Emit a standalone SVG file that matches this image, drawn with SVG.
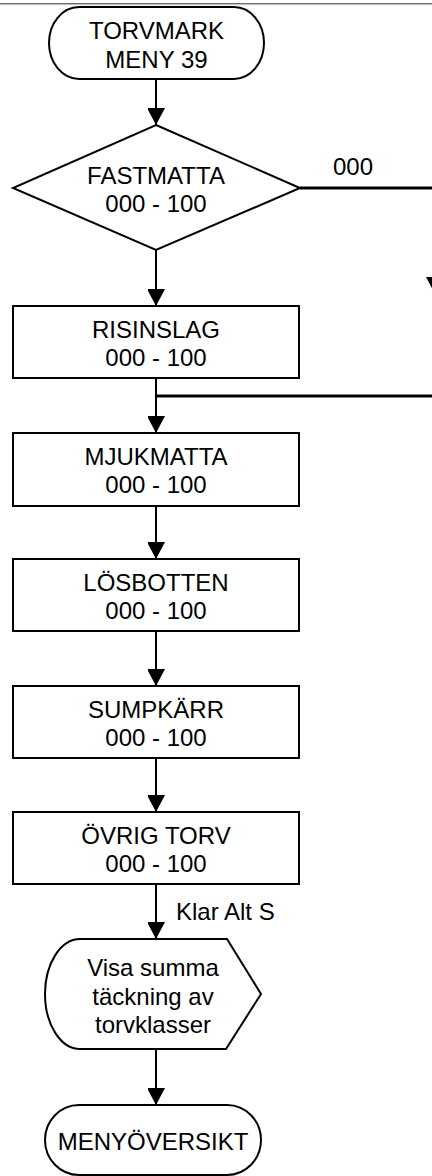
<svg xmlns="http://www.w3.org/2000/svg" width="432" height="1176" viewBox="0 0 432 1176">
  <defs>
    <style>
      .shape { fill: #ffffff; stroke: #000000; stroke-width: 2; }
      .conn { fill: none; stroke: #000000; stroke-width: 2; }
      .thick { fill: none; stroke: #000000; stroke-width: 3; }
      .lbl { font-family: "Liberation Sans", Arial, sans-serif; font-size: 24px; fill: #000000; }
      .c { text-anchor: middle; }
    </style>
    <marker id="arrow" markerUnits="userSpaceOnUse" markerWidth="18" markerHeight="17" refX="17" refY="9" orient="auto">
      <path d="M0,0 L17,9 L0,18 Z" fill="#000000"/>
    </marker>
  </defs>
  <rect x="0" y="0" width="432" height="1176" fill="#ffffff"/>
  <line x1="0" y1="3.5" x2="432" y2="3.5" stroke="#6e6e6e" stroke-width="1.2"/>
  <line x1="0" y1="4.6" x2="432" y2="4.6" stroke="#b8b8b8" stroke-width="1"/>

  <g id="connectors">
    <line class="conn" x1="156" y1="79" x2="156" y2="125" marker-end="url(#arrow)"/>
    <line class="conn" x1="156" y1="250" x2="156" y2="306" marker-end="url(#arrow)"/>
    <polyline class="thick" points="300,188 435,188 435,277"/>
    <path d="M426,277 L444,277 L435,294 Z" fill="#000000"/>
    <polyline class="thick" points="440,396 156,396"/>
    <line class="conn" x1="156" y1="378" x2="156" y2="433" marker-end="url(#arrow)"/>
    <line class="conn" x1="156" y1="506" x2="156" y2="559" marker-end="url(#arrow)"/>
    <line class="conn" x1="156" y1="631" x2="156" y2="686" marker-end="url(#arrow)"/>
    <line class="conn" x1="156" y1="758" x2="156" y2="812" marker-end="url(#arrow)"/>
    <line class="conn" x1="156" y1="884" x2="156" y2="939" marker-end="url(#arrow)"/>
    <line class="conn" x1="156" y1="1049" x2="156" y2="1105" marker-end="url(#arrow)"/>
    <text class="lbl" x="333" y="175">000</text>
    <text class="lbl" x="176" y="920">Klar Alt S</text>
  </g>

  <g id="start">
    <rect class="shape" x="49" y="7" width="215" height="72" rx="30" ry="36"/>
    <text class="lbl c" x="156.5" y="39">TORVMARK</text>
    <text class="lbl c" x="156.5" y="68">MENY 39</text>
  </g>

  <g id="fastmatta">
    <polygon class="shape" points="156,125 300,188 156,250 13,188"/>
    <text class="lbl c" x="156" y="183.5">FASTMATTA</text>
    <text class="lbl c" x="156" y="211.5">000 - 100</text>
  </g>

  <g id="risinslag">
    <rect class="shape" x="13" y="306" width="286" height="72"/>
    <text class="lbl c" x="156" y="338">RISINSLAG</text>
    <text class="lbl c" x="156" y="366">000 - 100</text>
  </g>

  <g id="mjukmatta">
    <rect class="shape" x="13" y="433" width="286" height="73"/>
    <text class="lbl c" x="156" y="465">MJUKMATTA</text>
    <text class="lbl c" x="156" y="493">000 - 100</text>
  </g>

  <g id="losbotten">
    <rect class="shape" x="13" y="559" width="286" height="72"/>
    <text class="lbl c" x="156" y="591">LÖSBOTTEN</text>
    <text class="lbl c" x="156" y="619">000 - 100</text>
  </g>

  <g id="sumpkarr">
    <rect class="shape" x="13" y="686" width="286" height="72"/>
    <text class="lbl c" x="156" y="718">SUMPKÄRR</text>
    <text class="lbl c" x="156" y="746">000 - 100</text>
  </g>

  <g id="ovrigtorv">
    <rect class="shape" x="13" y="812" width="286" height="72"/>
    <text class="lbl c" x="156" y="844">ÖVRIG TORV</text>
    <text class="lbl c" x="156" y="872">000 - 100</text>
  </g>

  <g id="visasumma">
    <path class="shape" d="M80,939 L227,939 L261,994 L226,1049 L80,1049 A35,55 0 0 1 80,939 Z"/>
    <text class="lbl c" x="153" y="976">Visa summa</text>
    <text class="lbl c" x="153" y="1005">täckning av</text>
    <text class="lbl c" x="153" y="1033">torvklasser</text>
  </g>

  <g id="menyoversikt">
    <rect class="shape" x="45" y="1105" width="216" height="70" rx="34" ry="35"/>
    <text class="lbl c" x="153" y="1150">MENYÖVERSIKT</text>
  </g>
</svg>
